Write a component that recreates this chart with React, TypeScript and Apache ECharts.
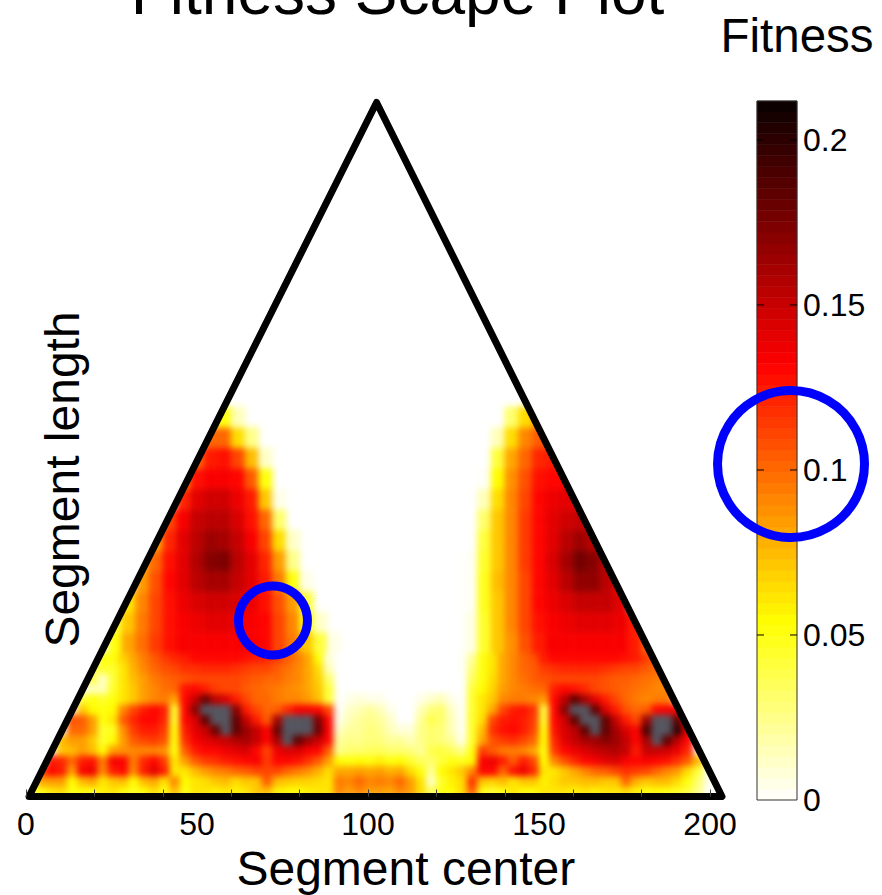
import React, { useEffect, useRef } from "react";
import * as echarts from "echarts";

const FONT = "Liberation Sans, Arial, sans-serif";

const xLabelValues = [0, 50, 100, 150, 200];
const xTickValues = [0, 20, 40, 60, 80, 100, 120, 140, 160, 180, 200];
const colorTickValues = [0, 0.05, 0.1, 0.15, 0.2];
const colorMax = 0.2118;
const colorLevels = 64;
const colorStops: [number, number[]][] = [
  [0, [255, 255, 255]],
  [0.054, [255, 255, 0]],
  [0.132, [255, 0, 0]],
  [0.2118, [8, 0, 0]],
];
const greyCode = 300;
const triangle = [[0.88, 0], [102.5, 203], [203.5, 0]];
const smallCircle = [72.2, 51.5];
const colorbarCircle = [0.85, 0.1018];

// fine cells: 3 units wide, 3 units tall, from length 0 up. Values in thousandths; 300 = grey peak.
const fineStarts = [0, 1, 1, 2, 3, 3, 4, 4, 5, 5, 6, 6, 6, 7];
const fineRow0 = [40,50,60,65,50,55,50,58,60,55,48,55,65,50,75,50,60,60,58,62,58,60,70,75,58,55,55,58,62,60,90,85,90,85,85,80,90,85,65,35,50,55,65,105,50,45,50,60,55,55,60,62,60,58,60,58,60,60,65,58,50,55,50,48,40,25];
const fineRow1 = [80,85,85,55,75,80,60,70,75,55,75,80,60,90,55,62,65,72,75,65,70,72,105,75,70,68,68,65,60,95,90,100,90,95,90,100,85,62,12,45,58,65,118,72,68,75,62,70,72,58,65,70,72,75,75,72,72,100,78,72,75,75,65,50,30,5];
const fineRow2 = [110,130,125,85,135,138,90,125,130,90,125,140,125,60,60,75,85,90,95,100,105,110,110,110,100,95,88,78,65,80,82,85,80,85,78,80,65,50,20,55,60,70,90,130,130,100,128,138,120,60,62,72,82,92,100,105,110,118,115,110,100,92,85,65,40];
const fineRow3 = [125,120,100,125,128,95,135,135,95,120,130,115,60,85,105,115,118,125,128,130,135,115,130,130,128,118,105,85,55,52,55,52,58,52,55,45,35,30,42,50,48,55,135,138,125,105,125,112,55,90,108,120,130,135,140,145,135,130,135,132,128,118,105,75];
const fineRow4 = [70,75,85,75,55,85,88,90,92,92,88,52,105,125,130,132,138,140,145,130,110,138,145,145,135,130,105,25,30,30,35,35,30,30,28,22,38,42,35,25,50,115,105,95,95,90,80,52,115,130,138,145,150,155,158,150,125,150,152,148,138,120];
const fineRow5 = [75,85,85,70,45,55,85,105,112,115,108,50,118,135,142,148,152,158,160,150,130,160,300,185,165,150,130,20,25,25,28,28,22,20,15,25,30,28,20,5,45,80,108,115,118,112,100,55,120,140,150,160,165,170,165,150,130,160,300,185,155,130];
const fineRow6 = [100,100,85,45,48,88,115,125,125,115,50,125,140,150,180,300,185,165,150,130,180,300,300,300,180,135,10,20,22,28,25,15,8,8,25,32,28,15,3,45,75,118,128,130,125,110,50,128,145,155,185,300,185,160,145,130,190,300,300,200,140];
const fineRow7 = [108,105,85,50,60,105,122,130,130,120,45,130,145,185,300,300,185,150,125,105,160,300,300,300,175,130,5,15,20,25,22,10,0,0,20,38,30,15,3,45,65,112,125,128,125,115,45,132,148,185,300,300,185,150,125,112,165,300,300,185,130];
const fineRow8 = [70,55,50,55,92,110,125,130,125,45,132,170,300,300,300,170,125,110,100,105,120,135,135,130,110,0,10,15,20,15,5,0,0,15,28,30,12,0,45,60,80,110,125,128,118,42,132,170,300,300,185,145,125,108,100,105,130,135,130];
const fineRow9 = [40,50,45,50,60,70,85,92,95,80,130,150,180,155,145,125,112,100,100,95,92,90,85,75,40,0,5,8,5,5,0,0,0,5,12,15,5,0,45,60,72,90,95,95,90,85,132,155,185,160,140,125,110,100,95,90,95,95];
const fineRow10 = [15,15,45,60,72,85,92,98,100,128,130,125,115,112,112,105,100,98,95,92,88,82,70,40,0,0,0,0,0,0,0,0,0,0,0,0,0,42,55,68,85,92,95,98,100,125,130,128,122,112,108,105,100,98,95,92,90,85];
const fineRow11 = [40,10,40,60,75,85,95,100,105,108,110,112,112,112,110,108,105,102,100,95,90,82,68,30,0,0,0,0,0,0,0,0,0,0,0,0,0,35,52,65,82,92,98,105,108,110,112,112,112,110,108,105,103,100,98,95,92];
const fineRow12 = [30,45,45,62,78,90,100,108,112,116,118,120,120,120,118,115,112,110,105,98,92,82,65,15,0,0,0,0,0,0,0,0,0,0,0,0,3,28,50,62,80,92,100,105,115,118,120,120,120,120,118,115,112,110,105,100,95];
const fineRow13 = [50,50,68,82,95,105,115,120,125,130,130,130,130,130,128,125,120,115,105,95,80,55,8,0,0,0,0,0,0,0,0,0,0,0,0,3,20,50,62,80,92,100,108,125,130,132,132,132,132,132,130,128,125,115,100];
const fineRows = [fineRow0, fineRow1, fineRow2, fineRow3, fineRow4, fineRow5, fineRow6, fineRow7, fineRow8, fineRow9, fineRow10, fineRow11, fineRow12, fineRow13];

// upper cells: 4 units wide, 6 units tall, from length 42 up.
const upperLeftStarts = [6, 6, 7, 8, 8, 9, 10, 11, 11, 12, 13, 13];
const upperLeftRows = [
  [50,80,98,115,128,133,135,135,135,135,134,130,112,95,70,40,5],
  [45,70,95,112,128,135,138,140,140,138,135,130,110,90,50,10],
  [60,92,110,128,138,145,148,148,145,138,128,108,85,40],
  [85,108,130,142,155,160,160,152,140,125,95,50,5],
  [80,100,128,142,158,172,175,155,140,120,85,25],
  [80,122,140,155,165,160,150,135,110,65,10],
  [110,135,150,155,155,145,128,100,30],
  [120,140,148,148,138,125,70,5],
  [90,128,135,135,130,105,50],
  [100,125,128,112,75,10],
  [100,100,65,25],
  [30,50,15],
];
const upperRightStarts = [32, 32, 32, 32, 32, 33, 33, 33, 33, 34, 34, 35];
const upperRightRows = [
  [5,45,70,88,108,125,133,135,135,135,135,133,125,100],
  [5,45,70,90,110,128,135,138,140,142,142,138,125],
  [3,48,72,92,110,130,138,145,150,152,150,140],
  [3,48,75,92,112,130,142,155,168,168,155,130],
  [2,45,72,92,115,132,145,160,178,172,150],
  [40,72,92,115,132,142,155,165,155,130],
  [30,70,92,115,132,140,148,150,135],
  [15,65,92,112,130,136,140,135],
  [3,55,88,108,128,132,132],
  [40,80,100,120,125],
  [15,65,90,105,105],
  [30,65,80],
];

function hotColor(v: number): string {
  if (v >= greyCode / 1000) return "#55555f";
  const level = Math.min(colorLevels - 1, Math.floor((v / colorMax) * colorLevels));
  const q = ((level + 0.5) / colorLevels) * colorMax;
  for (let i = 1; i < colorStops.length; i++) {
    const [a, ca] = colorStops[i - 1];
    const [b, cb] = colorStops[i];
    if (q <= b) {
      const t = (q - a) / (b - a);
      const c = ca.map((x, n) => Math.round(x + (cb[n] - x) * t));
      return `rgb(${c[0]},${c[1]},${c[2]})`;
    }
  }
  return "rgb(8,0,0)";
}

function buildCells(): number[][] {
  const cells: number[][] = [];
  fineRows.forEach((row, r) =>
    row.forEach((v, i) => {
      if (v > 0) {
        const k = fineStarts[r] + i;
        cells.push([k * 3, r * 3, k * 3 + 3, r * 3 + 3, v / 1000]);
      }
    })
  );
  const addUpper = (rows: number[][], starts: number[]) =>
    rows.forEach((row, r) =>
      row.forEach((v, i) => {
        if (v > 0) {
          const j = starts[r] + i;
          cells.push([j * 4, 42 + r * 6, j * 4 + 4, 42 + r * 6 + 6, v / 1000]);
        }
      })
    );
  addUpper(upperLeftRows, upperLeftStarts);
  addUpper(upperRightRows, upperRightStarts);
  return cells;
}

function rectItem(api: any) {
  const p0 = api.coord([api.value(0), api.value(1)]);
  const p1 = api.coord([api.value(2), api.value(3)]);
  const fill = hotColor(api.value(4));
  return {
    type: "rect",
    shape: { x: p0[0], y: p1[1], width: p1[0] - p0[0], height: p0[1] - p1[1] },
    style: { fill, stroke: fill, lineWidth: 0.6 },
  };
}

const plotGrid = { left: 26, top: 102.5, width: 697.7, height: 694, outerBoundsMode: "none" };
const barGrid = { left: 757, top: 101, width: 40, height: 699, outerBoundsMode: "none" };

export default function App() {
  const heatRef = useRef<HTMLDivElement>(null);
  const ref = useRef<HTMLDivElement>(null);
  useEffect(() => {
    document.body.style.margin = "0";

    const heat = echarts.init(heatRef.current!, undefined, { renderer: "svg" });
    heat.setOption({
      animation: false,
      grid: plotGrid,
      xAxis: { type: "value", min: 0, max: 204, show: false },
      yAxis: { type: "value", min: 0, max: 203, show: false },
      series: [
        {
          type: "custom",
          name: "Fitness",
          coordinateSystem: "cartesian2d",
          silent: true,
          data: buildCells(),
          renderItem: (_: any, api: any) => rectItem(api),
        },
      ],
    });

    const chart = echarts.init(ref.current!, undefined, { renderer: "svg" });
    const bar: number[][] = [];
    for (let i = 0; i < colorLevels; i++) {
      const lo = (i / colorLevels) * colorMax;
      const hi = ((i + 1) / colorLevels) * colorMax;
      bar.push([0, lo, 1, hi, (lo + hi) / 2]);
    }
    const axisBase = { axisLine: { show: false }, splitLine: { show: false } };
    chart.setOption({
      animation: false,
      backgroundColor: "transparent",
      title: [
        {
          text: "Fitness Scape Plot",
          left: 392.5,
          top: -45,
          textAlign: "center",
          textStyle: { fontFamily: FONT, fontSize: 64, fontWeight: "normal", color: "#000" },
        },
        {
          text: "Fitness",
          left: 792,
          top: 6,
          textAlign: "center",
          textStyle: { fontFamily: FONT, fontSize: 47.5, fontWeight: "normal", color: "#000" },
        },
      ],
      grid: [plotGrid, barGrid],
      xAxis: [
        {
          ...axisBase,
          type: "value",
          min: 0,
          max: 204,
          name: "Segment center",
          nameLocation: "middle",
          nameGap: 43,
          nameTextStyle: { fontFamily: FONT, fontSize: 48, color: "#000", padding: [0, 0, 0, 62] },
          axisTick: { show: true, inside: true, length: 7, customValues: xTickValues, lineStyle: { color: "#444", width: 1 } },
          axisLabel: { customValues: xLabelValues, fontFamily: FONT, fontSize: 32, color: "#000", margin: 11 },
          z: 5,
        },
        { gridIndex: 1, type: "value", min: 0, max: 1, show: false },
      ],
      yAxis: [
        {
          ...axisBase,
          type: "value",
          min: 0,
          max: 203,
          name: "Segment length",
          nameLocation: "middle",
          nameGap: -60,
          nameTextStyle: { fontFamily: FONT, fontSize: 48, color: "#000", padding: [0, 60, 0, 0] },
          axisTick: { show: false },
          axisLabel: { show: false },
          z: 11,
        },
        {
          ...axisBase,
          gridIndex: 1,
          type: "value",
          min: 0,
          max: colorMax,
          position: "right",
          axisTick: { show: false },
          axisLabel: { customValues: colorTickValues, fontFamily: FONT, fontSize: 32, color: "#000", margin: 6 },
          z: 5,
        },
      ],
      series: [
        {
          type: "custom",
          name: "mask",
          coordinateSystem: "cartesian2d",
          silent: true,
          data: [[0]],
          renderItem: (_: any, api: any) => ({
            type: "group",
            children: [
              {
                type: "polygon",
                shape: { points: [[-6, -6], [0.88, -6], triangle[0], triangle[1], [-6, 203]].map((p) => api.coord(p)) },
                style: { fill: "#fff" },
              },
              {
                type: "polygon",
                shape: { points: [[-6, 0], [210, 0], [210, -6], [-6, -6]].map((p) => api.coord(p)) },
                style: { fill: "#fff" },
              },
              {
                type: "polygon",
                shape: { points: [[210, -6], [203.5, -6], triangle[2], triangle[1], [210, 203]].map((p) => api.coord(p)) },
                style: { fill: "#fff" },
              },
            ],
          }),
        },
        {
          type: "custom",
          name: "triangle",
          coordinateSystem: "cartesian2d",
          silent: true,
          data: [[0]],
          renderItem: (_: any, api: any) => ({
            type: "polygon",
            shape: { points: triangle.map((p) => api.coord(p)) },
            style: { fill: "none", stroke: "#000", lineWidth: 7, lineJoin: "round" },
          }),
        },
        {
          type: "custom",
          name: "colorbar",
          coordinateSystem: "cartesian2d",
          xAxisIndex: 1,
          yAxisIndex: 1,
          silent: true,
          data: bar,
          renderItem: (_: any, api: any) => rectItem(api),
        },
        {
          type: "custom",
          name: "colorbarFrame",
          coordinateSystem: "cartesian2d",
          xAxisIndex: 1,
          yAxisIndex: 1,
          silent: true,
          data: [[0]],
          renderItem: (_: any, api: any) => {
            const a = api.coord([0, 0]);
            const b = api.coord([1, colorMax]);
            return {
              type: "rect",
              shape: { x: a[0], y: b[1], width: b[0] - a[0], height: a[1] - b[1] },
              style: { fill: "none", stroke: "#333", lineWidth: 1 },
            };
          },
        },
        {
          type: "custom",
          name: "colorbarTicks",
          coordinateSystem: "cartesian2d",
          xAxisIndex: 1,
          yAxisIndex: 1,
          silent: true,
          data: colorTickValues.filter((v) => v > 0).map((v) => [0, v]),
          renderItem: (_: any, api: any) => {
            const v = api.value(1);
            const a = api.coord([0, v]);
            const b = api.coord([1, v]);
            const seg = (x1: number, x2: number) => ({
              type: "line",
              shape: { x1, y1: a[1], x2, y2: a[1] },
              style: { stroke: "#000", lineWidth: 1 },
            });
            return { type: "group", children: [seg(a[0], a[0] + 7), seg(b[0] - 7, b[0])] };
          },
        },
        {
          type: "custom",
          name: "circleSmall",
          coordinateSystem: "cartesian2d",
          silent: true,
          z: 10,
          data: [[0]],
          renderItem: (_: any, api: any) => {
            const c = api.coord(smallCircle);
            return {
              type: "circle",
              shape: { cx: c[0], cy: c[1], r: 34.5 },
              style: { fill: "none", stroke: "#0000ff", lineWidth: 9 },
            };
          },
        },
        {
          type: "custom",
          name: "circleBar",
          coordinateSystem: "cartesian2d",
          xAxisIndex: 1,
          yAxisIndex: 1,
          silent: true,
          z: 10,
          data: [[0]],
          renderItem: (_: any, api: any) => {
            const c = api.coord(colorbarCircle);
            return {
              type: "circle",
              shape: { cx: c[0], cy: c[1], r: 73.5 },
              style: { fill: "none", stroke: "#0000ff", lineWidth: 9 },
            };
          },
        },
      ],
    });
    return () => {
      chart.dispose();
      heat.dispose();
    };
  }, []);
  return (
    <div style={{ position: "absolute", left: 0, top: 0, width: 882, height: 895, overflow: "hidden", background: "#fff" }}>
      <div ref={heatRef} style={{ position: "absolute", left: 0, top: 0, width: 882, height: 895, filter: "blur(3px)" }} />
      <div ref={ref} style={{ position: "absolute", left: 0, top: 0, width: 882, height: 895 }} />
    </div>
  );
}
